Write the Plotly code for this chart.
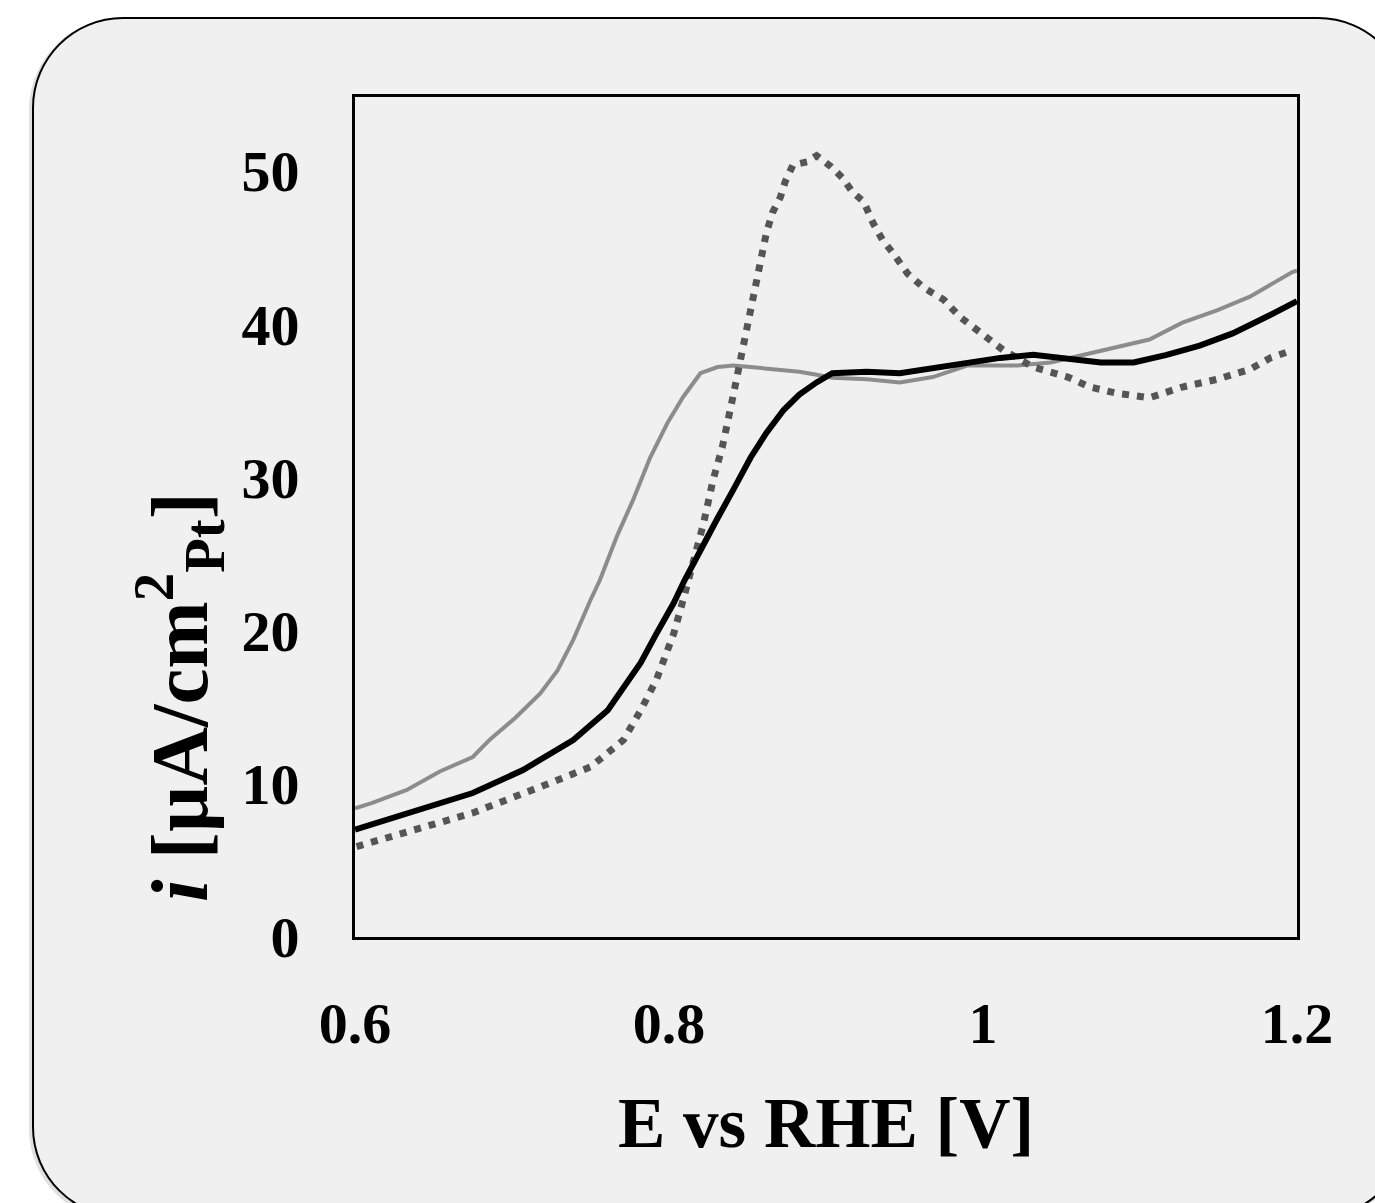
import plotly.graph_objects as go

# ---------------- data ----------------
# light gray solid curve
e_gray = [0.600, 0.611, 0.633, 0.654, 0.675, 0.686, 0.702, 0.718, 0.729, 0.739, 0.750, 0.756,
          0.767, 0.777, 0.788, 0.799, 0.809, 0.820, 0.831, 0.841, 0.852, 0.873, 0.883, 0.894,
          0.904, 0.926, 0.947, 0.968, 0.990, 1.011, 1.022, 1.043, 1.064, 1.085, 1.106, 1.127,
          1.149, 1.170, 1.197, 1.200]
i_gray = [8.4, 8.75, 9.6, 10.8, 11.75, 12.9, 14.3, 15.9, 17.4, 19.4, 22.0, 23.3,
          26.2, 28.5, 31.3, 33.55, 35.25, 36.8, 37.2, 37.3, 37.2, 37.0, 36.9, 36.7,
          36.5, 36.4, 36.2, 36.55, 37.3, 37.3, 37.3, 37.5, 38.0, 38.5, 39.0, 40.1,
          40.9, 41.8, 43.4, 43.5]

# black solid curve
e_black = [0.600, 0.633, 0.654, 0.675, 0.707, 0.739, 0.761, 0.782, 0.792, 0.803, 0.810, 0.820,
           0.831, 0.841, 0.852, 0.862, 0.873, 0.883, 0.894, 0.904, 0.926, 0.947, 0.968, 0.990,
           1.011, 1.032, 1.054, 1.075, 1.096, 1.117, 1.138, 1.159, 1.181, 1.197, 1.200]
i_black = [7.0, 8.1, 8.75, 9.4, 10.9, 12.86, 14.8, 17.9, 19.8, 21.8, 23.3, 25.3,
           27.35, 29.2, 31.3, 32.9, 34.4, 35.4, 36.2, 36.8, 36.9, 36.8, 37.1, 37.5,
           37.8, 38.0, 37.7, 37.5, 37.5, 38.0, 38.6, 39.4, 40.5, 41.4, 41.5]

# dark gray dotted curve
e_dot = [0.601, 0.633, 0.675, 0.718, 0.750, 0.771, 0.782, 0.792, 0.803, 0.809, 0.822, 0.828,
         0.834, 0.840, 0.845, 0.850, 0.854, 0.856, 0.859, 0.862, 0.866, 0.871, 0.874, 0.879,
         0.888, 0.894, 0.903, 0.911, 0.917, 0.924, 0.930, 0.936, 0.943, 0.952, 0.962, 0.975,
         0.985, 0.996, 1.004, 1.013, 1.032, 1.054, 1.068, 1.085, 1.106, 1.127, 1.149, 1.170,
         1.183, 1.197]
i_dot = [5.9, 6.8, 8.1, 9.8, 11.1, 12.86, 14.8, 16.8, 19.8, 22.0, 27.0, 29.8,
         32.0, 34.9, 37.5, 40.1, 42.1, 43.2, 44.3, 45.95, 47.3, 48.3, 49.3, 50.4,
         50.6, 51.0, 50.3, 49.5, 48.6, 48.0, 46.6, 45.5, 44.6, 43.3, 42.4, 41.6,
         40.5, 39.6, 39.0, 38.3, 37.2, 36.55, 35.9, 35.5, 35.2, 35.9, 36.4, 37.05,
         37.8, 38.3]

x_ticks = [0.6, 0.8, 1.0, 1.2]
x_ticktext = ["0.6", "0.8", "1", "1.2"]
y_ticks = [0, 10, 20, 30, 40, 50]
y_ticktext = ["0", "10", "20", "30", "40", "50"]

# ---------------- figure ----------------
W, H = 1375, 1203
ML, MR, MT, MB = 355, 78, 97, 266
PW, PH = W - ML - MR, H - MT - MB

FONT = "Liberation Serif, Times New Roman, serif"

fig = go.Figure()
fig.add_trace(go.Scatter(x=e_gray, y=i_gray, mode="lines",
                         line=dict(color="#8c8c8c", width=4), showlegend=False))
fig.add_trace(go.Scatter(x=e_dot, y=i_dot, mode="lines",
                         line=dict(color="#555555", width=7, dash="7px,8px"), showlegend=False))
fig.add_trace(go.Scatter(x=e_black, y=i_black, mode="lines",
                         line=dict(color="#000000", width=6), showlegend=False))


def pp(px, py):
    return (px - ML) / PW, (MT + PH - py) / PH


def rounded_path(x0, y0, x1, y1, r):
    k = 0.5523 * r

    def P(px, py):
        a, b = pp(px, py)
        return f"{a:.5f},{b:.5f}"
    d = f"M {P(x0 + r, y0)} L {P(x1 - r, y0)} "
    d += f"C {P(x1 - r + k, y0)} {P(x1, y0 + r - k)} {P(x1, y0 + r)} "
    d += f"L {P(x1, y1 - r)} "
    d += f"C {P(x1, y1 - r + k)} {P(x1 - r + k, y1)} {P(x1 - r, y1)} "
    d += f"L {P(x0 + r, y1)} "
    d += f"C {P(x0 + r - k, y1)} {P(x0, y1 - r + k)} {P(x0, y1 - r)} "
    d += f"L {P(x0, y0 + r)} "
    d += f"C {P(x0, y0 + r - k)} {P(x0 + r - k, y0)} {P(x0 + r, y0)} Z"
    return d


shapes = [
    dict(type="path", xref="paper", yref="paper", layer="below",
         path=rounded_path(31, 20, 1406, 1219, 90),
         fillcolor="rgba(0,0,0,0)", line=dict(color="rgba(0,0,0,0.12)", width=4)),
    dict(type="path", xref="paper", yref="paper", layer="below",
         path=rounded_path(33, 18, 1408, 1217, 90),
         fillcolor="#f0f0f0", line=dict(color="#000000", width=2)),
]

fig.update_layout(
    width=W, height=H,
    margin=dict(l=ML, r=MR, t=MT, b=MB),
    paper_bgcolor="#ffffff",
    plot_bgcolor="#f0f0f0",
    font=dict(family=FONT, color="#000000"),
    shapes=shapes,
    xaxis=dict(
        range=[0.6, 1.2], tickvals=x_ticks, ticktext=x_ticktext,
        showgrid=False, zeroline=False, showline=True, mirror=True,
        linecolor="#000000", linewidth=3, ticks="", ticklabelstandoff=33,
        tickfont=dict(family=FONT, size=58, color="#000000", weight="bold"),
        title=dict(text="<b>E vs RHE [V]</b>", standoff=43,
                   font=dict(family=FONT, size=71, color="#000000")),
    ),
    yaxis=dict(
        range=[0, 54.83], tickvals=y_ticks, ticktext=y_ticktext,
        showgrid=False, zeroline=False, showline=True, mirror=True,
        linecolor="#000000", linewidth=3, ticks="", ticklabelstandoff=41,
        tickfont=dict(family=FONT, size=58, color="#000000", weight="bold"),
    ),
    annotations=[
        dict(text="<b><i>i</i> [µA/cm<sup>2</sup><sub>Pt</sub>]</b>",
             xref="paper", yref="paper",
             x=(179 - ML) / PW, y=(MT + PH - 697) / PH,
             xanchor="center", yanchor="middle", textangle=-90, showarrow=False,
             font=dict(family=FONT, size=81, color="#000000")),
    ],
)

fig.write_html("out.html",
               config={"displayModeBar": False},
               post_script="document.body.style.margin='0px';document.body.style.overflow='hidden';")
